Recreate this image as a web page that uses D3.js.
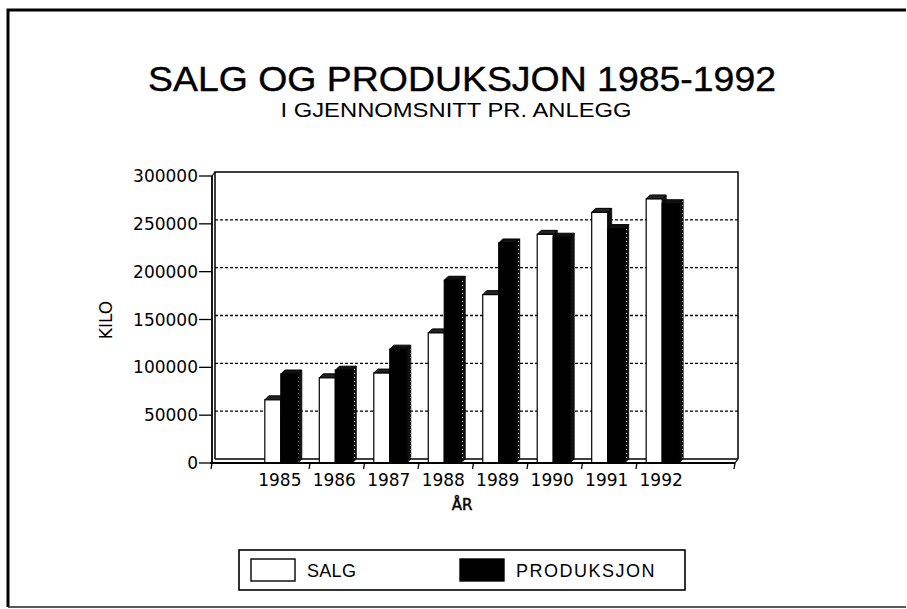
<!DOCTYPE html>
<html>
<head>
<meta charset="utf-8">
<script src="https://cdn.jsdelivr.net/npm/d3@7"></script>
<style>
  body { margin: 0; background: #fff; }
  svg { display: block; }
</style>
</head>
<body>
<div id="viz"></div>
<script>
const years = ['1985', '1986', '1987', '1988', '1989', '1990', '1991', '1992'];
const salg = [66000, 89000, 94000, 136000, 176000, 239000, 262000, 276000];
const produksjon = [93000, 97000, 119000, 191000, 230000, 236000, 245000, 271000];
const yTicks = [0, 50000, 100000, 150000, 200000, 250000, 300000];
const gridTicks = [50000, 100000, 150000, 200000, 250000];

let width = 907;
let height = 609;

// 3d depth of back wall
let dx = 3, dy = -4;
let depth = 4;

let plotLeft = 212, plotRight = 735, plotTop = 176, plotBottom = 463;

let x = d3.scaleBand()
  .domain(years)
  .range([plotLeft, plotRight])
  .paddingInner(0)
  .paddingOuter(0.8);

let y = d3.scaleLinear()
  .domain([0, 300000])
  .range([plotBottom, plotTop]);

const svg = d3.select('#viz').append('svg')
  .attr('width', width)
  .attr('height', height);

// dotted stipple for the dark side faces
let defs = svg.append('defs');
defs.append('pattern')
  .attr('id', 'stipple')
  .attr('patternUnits', 'userSpaceOnUse')
  .attr('width', 4)
  .attr('height', 4)
  .call(p => {
    p.append('rect').attr('width', 4).attr('height', 4).attr('fill', '#111');
    p.append('rect').attr('x', 2).attr('y', 1).attr('width', 1).attr('height', 1).attr('fill', '#ddd');
  });

// outer frame
svg.append('path')
  .attr('d', `M8,${height - 2}V10H906`)
  .attr('fill', 'none')
  .attr('stroke', '#000')
  .attr('stroke-width', 3);
svg.append('line')
  .attr('x1', 8).attr('x2', 906)
  .attr('y1', 607).attr('y2', 607)
  .attr('stroke', '#222')
  .attr('stroke-width', 1.5);

// titles
svg.append('text')
  .attr('x', 462)
  .attr('y', 91)
  .attr('text-anchor', 'middle')
  .attr('textLength', 628)
  .attr('lengthAdjust', 'spacingAndGlyphs')
  .attr('stroke', '#000')
  .attr('stroke-width', 0.4)
  .style('font', '35px "Liberation Sans", Arial, sans-serif')
  .text('SALG OG PRODUKSJON 1985-1992');

svg.append('text')
  .attr('x', 456)
  .attr('y', 117)
  .attr('text-anchor', 'middle')
  .style('font', '21px "Liberation Sans", Arial, sans-serif')
  .attr('textLength', 351)
  .attr('lengthAdjust', 'spacingAndGlyphs')
  .text('I GJENNOMSNITT PR. ANLEGG');

// back wall
const wall = svg.append('g')
  .attr('fill', 'none')
  .attr('stroke', '#000');

wall.append('path')
  .attr('d', `M${plotLeft + dx},${plotBottom + dy}V${plotTop + dy}H${plotRight + dx}V${plotBottom + dy}`)
  .attr('stroke-width', 1.5);

wall.selectAll('.grid')
  .data(gridTicks)
  .join('line')
  .attr('class', 'grid')
  .attr('x1', plotLeft + dx)
  .attr('x2', plotRight + dx)
  .attr('y1', d => y(d) + dy)
  .attr('y2', d => y(d) + dy)
  .attr('stroke-width', 1.3)
  .attr('stroke-dasharray', '3,2');

// floor
wall.append('line')
  .attr('x1', plotLeft + dx).attr('x2', plotRight + dx)
  .attr('y1', plotBottom + dy).attr('y2', plotBottom + dy)
  .attr('stroke-width', 1.5);
wall.append('path')
  .attr('d', `M${plotLeft},${plotTop}L${plotLeft + dx},${plotTop + dy}M${plotRight},${plotBottom}L${plotRight + dx},${plotBottom + dy}`)
  .attr('stroke-width', 1.2);

// bars
let barW = 16;

function bar3d(g, x0, w, v, face, side, cap) {
  let yt = y(v), yb = y(0);
  g.append('path')
    .attr('d', `M${x0 + w},${yt}L${x0 + w + depth},${yt - depth}V${yb - depth}L${x0 + w},${yb}Z`)
    .attr('fill', side)
    .attr('stroke', '#000')
    .attr('stroke-width', 0.8);
  g.append('path')
    .attr('d', `M${x0},${yt}L${x0 + depth},${yt - depth}H${x0 + w + depth}L${x0 + w},${yt}Z`)
    .attr('fill', cap)
    .attr('stroke', '#000')
    .attr('stroke-width', 1);
  g.append('rect')
    .attr('x', x0)
    .attr('y', yt)
    .attr('width', w)
    .attr('height', yb - yt)
    .attr('fill', face)
    .attr('stroke', '#000')
    .attr('stroke-width', 1.2);
}

const bars = svg.append('g');

years.forEach((yr, i) => {
  let c = x(yr) + x.bandwidth() / 2;
  let g = bars.append('g');
  bar3d(g, c - 18, barW, salg[i], '#fff', '#111', '#222');
  bar3d(g, c - 2, barW + 1, produksjon[i], '#000', 'url(#stipple)', '#111');
});

// front axes
const axes = svg.append('g')
  .attr('stroke', '#000');

axes.append('line')
  .attr('x1', plotLeft).attr('x2', plotLeft)
  .attr('y1', plotTop).attr('y2', plotBottom)
  .attr('stroke-width', 1.8);

axes.append('line')
  .attr('x1', plotLeft - 2).attr('x2', plotRight)
  .attr('y1', plotBottom).attr('y2', plotBottom)
  .attr('stroke-width', 1.8);

axes.selectAll('.ytick')
  .data(yTicks)
  .join('line')
  .attr('class', 'ytick')
  .attr('x1', plotLeft - 13).attr('x2', plotLeft)
  .attr('y1', d => y(d)).attr('y2', d => y(d))
  .attr('stroke-width', 1.3);

let xTickPos = [plotLeft].concat(years.slice(1).map(d => x(d)), [plotRight]);

axes.selectAll('.xtick')
  .data(xTickPos)
  .join('line')
  .attr('class', 'xtick')
  .attr('x1', d => d).attr('x2', d => d - 1)
  .attr('y1', plotBottom).attr('y2', plotBottom + 6)
  .attr('stroke-width', 1.3);

const labelFont = '17px "DejaVu Sans", sans-serif';

svg.append('g')
  .selectAll('text')
  .data(yTicks)
  .join('text')
  .attr('x', plotLeft - 14)
  .attr('y', d => y(d))
  .attr('dy', '0.36em')
  .attr('text-anchor', 'end')
  .style('font', labelFont)
  .text(d => d);

svg.append('g')
  .selectAll('text')
  .data(years)
  .join('text')
  .attr('x', d => x(d) + x.bandwidth() / 2 - 3)
  .attr('y', 486)
  .attr('text-anchor', 'middle')
  .style('font', labelFont)
  .text(d => d);

svg.append('text')
  .attr('transform', 'translate(112,320) rotate(-90)')
  .attr('text-anchor', 'middle')
  .style('font', labelFont)
  .text('KILO');

svg.append('text')
  .attr('x', 462)
  .attr('y', 510)
  .attr('text-anchor', 'middle')
  .style('font', '15px "DejaVu Sans", sans-serif')
  .attr('stroke', '#000')
  .attr('stroke-width', 0.5)
  .text('ÅR');

// legend
const legend = svg.append('g');

legend.append('rect')
  .attr('x', 239).attr('y', 550)
  .attr('width', 446).attr('height', 40)
  .attr('fill', '#fff')
  .attr('stroke', '#000')
  .attr('stroke-width', 1.6);

let legendItems = [
  { name: 'SALG', fill: '#fff', x: 251 },
  { name: 'PRODUKSJON', fill: '#000', x: 460 }
];

legend.selectAll('.sw')
  .data(legendItems)
  .join('rect')
  .attr('class', 'sw')
  .attr('x', d => d.x).attr('y', 559)
  .attr('width', 44).attr('height', 22)
  .attr('fill', d => d.fill)
  .attr('stroke', '#000')
  .attr('stroke-width', 1.4);

legend.selectAll('.lt')
  .data(legendItems)
  .join('text')
  .attr('class', 'lt')
  .attr('x', d => d.x + 56)
  .attr('y', 577)
  .style('font', '18px "Liberation Sans", Arial, sans-serif')
  .style('letter-spacing', d => d.name === 'SALG' ? '0.3px' : '1.5px')
  .text(d => d.name);
</script>
</body>
</html>
